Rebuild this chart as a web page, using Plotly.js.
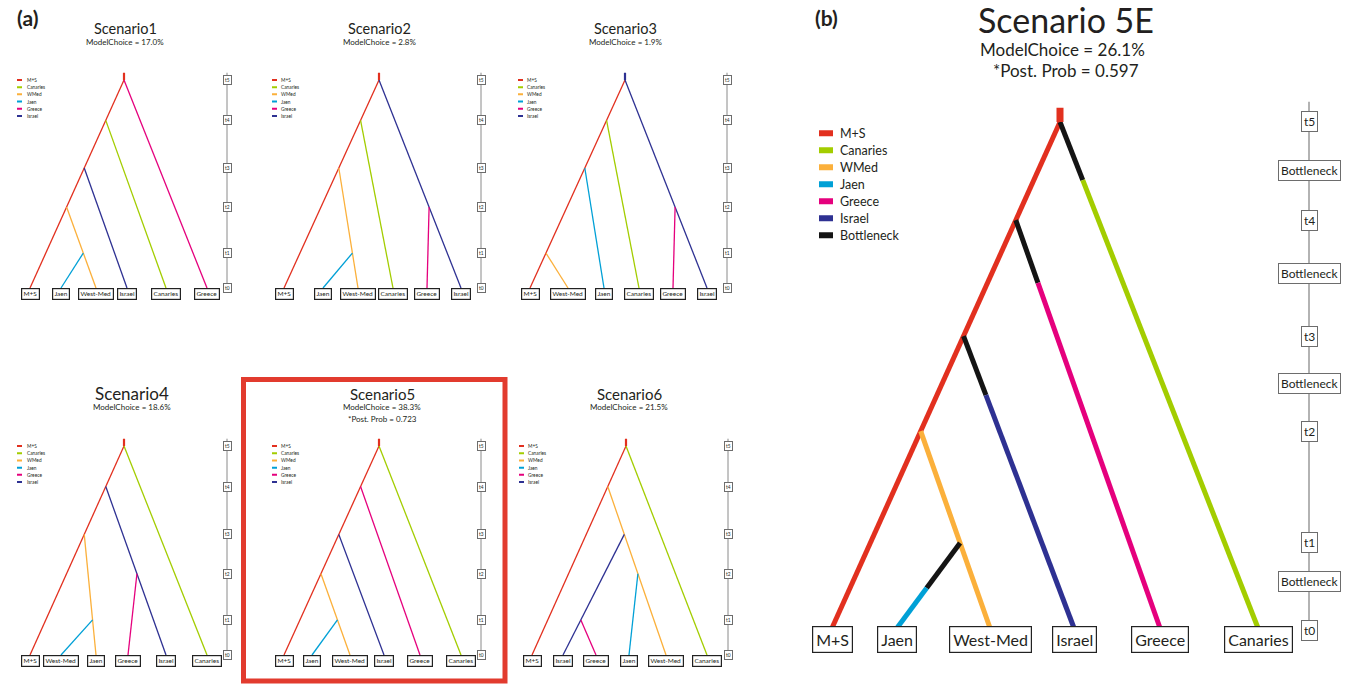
<!DOCTYPE html>
<html><head><meta charset="utf-8">
<script src="https://cdn.plot.ly/plotly-3.0.1.min.js"></script>
<style>html,body{margin:0;padding:0;background:#fff}#chart{width:1346px;height:684px}</style>
</head><body><div id="chart"></div>
<script>
// ---------- DATA ----------
const popNames  = ['M+S','Canaries','WMed','Jaen','Greece','Israel'];
const popColors = ['#e2301f','#a3cd00','#fbb03b','#00a0d6','#e5007d','#2e3192'];
const bottleneckName = 'Bottleneck';
const bottleneckColor = '#141414';

const timePoints = [0, 0.168, 0.389, 0.577, 0.806, 1];
const timeLabels = ['t0','t1','t2','t3','t4','t5'];
const bottleneckTimes = [0.091, 0.484, 0.700, 0.905];

// lineage rows: [population, parent population, split time index, leaf index, bottleneck end time]
const scenario1 = {title:'Scenario1', choice:'ModelChoice = 17.0%', stub:'M+S',
  leaves:['M+S','Jaen','West-Med','Israel','Canaries','Greece'], leafX:[30,61,96,127,166,207], rootX:124,
  lineages:[['M+S',null,5,0],['Greece',null,5,5],['Canaries','M+S',4,4],['Israel','M+S',3,3],['WMed','M+S',2,2],['Jaen','WMed',1,1]]};
const scenario2 = {title:'Scenario2', choice:'ModelChoice = 2.8%', stub:'M+S',
  leaves:['M+S','Jaen','West-Med','Canaries','Greece','Israel'], leafX:[34,73,108,143,177,211], rootX:129,
  lineages:[['M+S',null,5,0],['Israel',null,5,5],['Canaries','M+S',4,3],['WMed','M+S',3,2],['Greece','Israel',2,4],['Jaen','WMed',1,1]]};
const scenario3 = {title:'Scenario3', choice:'ModelChoice = 1.9%', stub:'Israel',
  leaves:['M+S','West-Med','Jaen','Canaries','Greece','Israel'], leafX:[35,73,109,144,178,212], rootX:130,
  lineages:[['M+S',null,5,0],['Israel',null,5,5],['Canaries','M+S',4,3],['Jaen','M+S',3,2],['Greece','Israel',2,4],['WMed','M+S',1,1]]};
const scenario4 = {title:'Scenario4', choice:'ModelChoice = 18.6%', stub:'M+S',
  leaves:['M+S','West-Med','Jaen','Greece','Israel','Canaries'], leafX:[30,61,96,128,166,207], rootX:124,
  lineages:[['M+S',null,5,0],['Canaries',null,5,5],['Israel','M+S',4,4],['WMed','M+S',3,2],['Greece','Israel',2,3],['Jaen','WMed',1,1]]};
const scenario5 = {title:'Scenario5', choice:'ModelChoice = 38.3%', prob:'*Post. Prob = 0.723', stub:'M+S',
  leaves:['M+S','Jaen','West-Med','Israel','Greece','Canaries'], leafX:[34,62,100,134,170,211], rootX:129,
  lineages:[['M+S',null,5,0],['Canaries',null,5,5],['Greece','M+S',4,4],['Israel','M+S',3,3],['WMed','M+S',2,2],['Jaen','WMed',1,1]]};
const scenario6 = {title:'Scenario6', choice:'ModelChoice = 21.5%', stub:'M+S',
  leaves:['M+S','Israel','Greece','Jaen','West-Med','Canaries'], leafX:[37,68,101,134,171,212], rootX:131,
  lineages:[['M+S',null,5,0],['Canaries',null,5,5],['WMed','M+S',4,4],['Israel','WMed',3,1],['Jaen','WMed',2,3],['Greece','Israel',1,2]]};
const scenario5E = {title:'Scenario 5E', choice:'ModelChoice = 26.1%', prob:'*Post. Prob = 0.597', stub:'M+S',
  leaves:['M+S','Jaen','West-Med','Israel','Greece','Canaries'], leafX:[42,107,200,284,370,468], rootX:270,
  lineages:[['M+S',null,5,0,null],['Canaries',null,5,5,0.885],['Greece','M+S',4,4,0.682],['Israel','M+S',3,3,0.460],['WMed','M+S',2,2,null],['Jaen','WMed',1,1,0.079]]};

// ---------- LAYOUT (pixel frames of panels) ----------
const W = 1346, H = 684;
const FONT = 'Lato, "Open Sans", sans-serif';
const TXT = '#231f20';
const panels = [
  {sc:scenario1, px:[0,240],   py:[288,80],  tl:227, lg:[17,22,25],  tx:125, ty:[28,42],       tsize:14.5, big:false},
  {sc:scenario2, px:[250,490], py:[288,80],  tl:231, lg:[22,27,29],  tx:379, ty:[28,42],       tsize:14.5, big:false},
  {sc:scenario3, px:[495,735], py:[288,80],  tl:232, lg:[23,28,30],  tx:625, ty:[28,42],       tsize:14.5, big:false},
  {sc:scenario4, px:[0,240],   py:[655,446], tl:227, lg:[17,22,25],  tx:132, ty:[393,407],     tsize:17,   big:false},
  {sc:scenario5, px:[250,490], py:[655,446], tl:231, lg:[22,27,29],  tx:382, ty:[394,407,419], tsize:15,   big:false},
  {sc:scenario6, px:[495,735], py:[655,446], tl:233, lg:[24,29,31],  tx:629, ty:[394,407],     tsize:15,   big:false},
  {sc:scenario5E,px:[790,1346],py:[628,122], tl:519, lg:[29,43,48],  tx:1066,ty:[19,49,71],    tsize:34,   big:true}
];

function colorOf(p){ const i = popNames.indexOf(p); return i >= 0 ? popColors[i] : bottleneckColor; }

const traces = [], annotations = [], shapes = [];
const layout = {width:W, height:H, margin:{l:0,r:0,t:0,b:0}, showlegend:false,
  paper_bgcolor:'#fff', plot_bgcolor:'#fff', font:{family:FONT, color:TXT}};

panels.forEach((P, idx) => {
  const k = idx + 1, sfx = k === 1 ? '' : String(k);
  const xa = 'x' + sfx, ya = 'y' + sfx;
  const sc = P.sc, big = P.big;
  const r0 = big ? -0.1 : -0.13, r1 = big ? 1.05 : 1.06;
  const pxOf = v => P.py[0] - v * (P.py[0] - P.py[1]);
  layout['xaxis' + sfx] = {domain:[P.px[0]/W, P.px[1]/W], range:[0, P.px[1]-P.px[0]], visible:false, fixedrange:true, anchor:ya};
  layout['yaxis' + sfx] = {domain:[Math.max(0,1-pxOf(r0)/H), Math.min(1,1-pxOf(r1)/H)], range:[r0, r1], visible:false, fixedrange:true, anchor:xa};
  const lw = big ? 5 : 1.3;
  const line = (xs, ys, c, w) => traces.push({type:'scatter', mode:'lines', x:xs, y:ys, xaxis:xa, yaxis:ya,
    line:{color:c, width:w || lw}, hoverinfo:'skip'});

  // timeline
  line([P.tl, P.tl], [big ? -0.02 : 0, big ? 1.04 : 1.035], '#8a8a8a', big ? 1.3 : 1);
  const tlFont = big ? 12 : 4.8;
  const tlAnn = (t, txt) => annotations.push({xref:xa, yref:ya, x:P.tl, y:t, text:txt, showarrow:false,
    yshift: (big && t === 0) ? -3 : 0,
    font:{size:tlFont, color:TXT, family:FONT}, bgcolor:'#fff', bordercolor:'#6d6d6d', borderwidth:1, borderpad:big ? 2 : 1});
  timePoints.forEach((t, i) => tlAnn(t, timeLabels[i]));
  if (big) bottleneckTimes.forEach(t => tlAnn(t, bottleneckName));

  // tree branches
  const start = {};
  sc.lineages.forEach(([pop, parent, ti, li, bn]) => {
    const t = timePoints[ti];
    let sx;
    if (parent === null) sx = sc.rootX;
    else { const p = start[parent]; const plx = sc.leafX[p.leaf]; sx = plx + (p.x - plx) * (t / p.t); }
    start[pop] = {x:sx, t:t, leaf:li};
    const lx = sc.leafX[li];
    if (bn != null) {
      const bx = lx + (sx - lx) * (bn / t);
      line([sx, bx], [t, bn], bottleneckColor);
      line([bx, lx], [bn, 0], colorOf(pop));
    } else line([sx, lx], [t, 0], colorOf(pop));
  });
  line([sc.rootX, sc.rootX], [1, big ? 1.028 : 1.035], colorOf(sc.stub), big ? 7 : 2.2);

  // leaf labels
  sc.leaves.forEach((lab, i) => annotations.push({xref:xa, yref:ya, x:sc.leafX[i], y:0, yanchor:'top', yshift:big ? 2 : 0,
    text:lab, showarrow:false, font:{size:big ? 16 : 6.5, color:TXT, family:FONT},
    bgcolor:'#fff', bordercolor:'#222', borderwidth:big ? 1.2 : 1.2, borderpad:big ? 3 : 1.2}));

  // legend
  const items = big ? popNames.concat([bottleneckName]) : popNames;
  const cols = big ? popColors.concat([bottleneckColor]) : popColors;
  const y0 = big ? 0.978 : 1.0, step = big ? 0.0336 : 0.0345;
  items.forEach((nm, i) => {
    const y = y0 - i * step;
    shapes.push({type:'line', xref:xa, yref:ya, x0:P.lg[0], x1:P.lg[1], y0:y, y1:y, line:{color:cols[i], width:big ? 6 : 2}});
    annotations.push({xref:xa, yref:ya, x:P.lg[2], y:y, xanchor:'left', yanchor:'middle', text:nm, showarrow:false,
      font:{size:big ? 12.5 : 4.8, color:TXT, family:FONT}});
  });

  // titles
  const pa = (x, y, txt, size) => annotations.push({xref:'paper', yref:'paper', x:x/W, y:1-y/H,
    xanchor:'center', yanchor:'middle', text:txt, showarrow:false, font:{size:size, color:TXT, family:FONT}});
  pa(P.tx, P.ty[0], sc.title, P.tsize);
  pa(P.tx + (big ? -4 : 0), P.ty[1], sc.choice, big ? 17 : 8);
  if (sc.prob) pa(P.tx, P.ty[2], sc.prob, big ? 17 : 8);
});

// panel letters
annotations.push({xref:'paper', yref:'paper', x:27/W, y:1-18/H, xanchor:'center', yanchor:'middle', text:'<b>(a)</b>', showarrow:false, font:{size:21, color:TXT, family:FONT}});
annotations.push({xref:'paper', yref:'paper', x:826/W, y:1-18/H, xanchor:'center', yanchor:'middle', text:'<b>(b)</b>', showarrow:false, font:{size:21, color:TXT, family:FONT}});
// highlight of selected scenario
shapes.push({type:'rect', xref:'paper', yref:'paper', x0:243.5/W, x1:505/W, y0:1-681/H, y1:1-379.5/H,
  line:{color:'#e23b2e', width:5}, fillcolor:'rgba(0,0,0,0)'});

layout.annotations = annotations;
layout.shapes = shapes;
Plotly.newPlot('chart', traces, layout, {displayModeBar:false, staticPlot:true});
</script></body></html>
